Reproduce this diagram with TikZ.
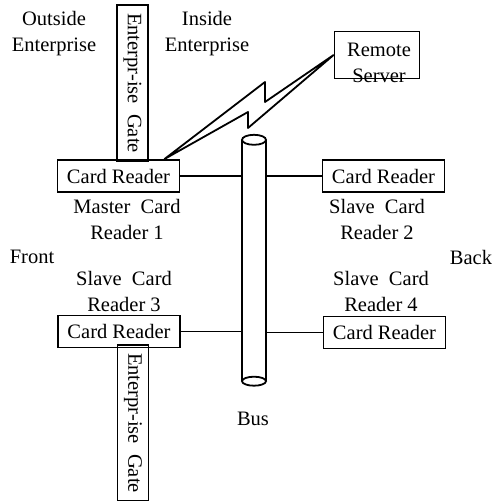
\documentclass[tikz,border=0pt]{standalone}
\usepackage{fontspec}
\setmainfont{Liberation Serif}
\usetikzlibrary{calc}
\begin{document}
\begin{tikzpicture}[x=1pt,y=-1pt,
  every node/.style={font=\fontsize{20.5}{26}\selectfont},
  reader/.style={draw, line width=1.8pt, minimum width=122pt, minimum height=32pt, inner sep=0pt},
  gate/.style={draw, line width=1.8pt, rotate=-90, minimum width=156pt, minimum height=31pt, inner sep=0pt},
  lbl/.style={align=center, inner sep=0pt},
  wire/.style={line width=1.8pt}]
\useasboundingbox (0,0) rectangle (493,501);

% region labels
\node[lbl] (outside) at (54,34) {Outside\\Enterprise};
\node[lbl] (inside) at (207,34) {Inside\\Enterprise};
\node[lbl] (front) at (32,257) {Front};
\node[lbl] (back) at (471,257) {Back};

% enterprise gates
\node[gate] (gatetop) at (132.5,83) {Enterpr-ise~~Gate};
\node[gate] (gatebot) at (133,423) {Enterpr-ise~~Gate};

% card readers
\node[reader] (cr1) at (118.5,176) {Card Reader};
\node[reader] (cr2) at (383.5,176) {Card Reader};
\node[reader] (cr3) at (119,331.5) {Card Reader};
\node[reader] (cr4) at (384.5,332.5) {Card Reader};

% reader captions
\node[lbl] (m1) at (127,219) {Master~~Card\\Reader 1};
\node[lbl] (s2) at (377,219) {Slave~~Card\\Reader 2};
\node[lbl] (s3) at (124,291) {Slave~~Card\\Reader 3};
\node[lbl] (s4) at (381,291) {Slave~~Card\\Reader 4};

% remote server
\node[draw, line width=1.8pt, minimum width=85pt, minimum height=47pt, inner sep=0pt] (rs) at (377,55) {};
\node[lbl] (rstext) at (379,63) {Remote\\Server};

% bus cylinder
\node[minimum width=24pt, minimum height=241pt, inner sep=0pt] (bus) at (254,260.5) {};
\draw[wire] (bus.north west) -- (bus.south west) (bus.north east) -- (bus.south east);
\draw[wire] (bus.north) ellipse [x radius=12, y radius=5];
\draw[wire] (bus.south) ellipse [x radius=12, y radius=4.5];
\node[lbl] (buslbl) at (253,419) {Bus};

% readers attached to the bus
\draw[wire] (cr1.east) -- (cr1.east -| bus.west);
\draw[wire] (bus.east |- cr2.west) -- (cr2.west);
\draw[wire] (cr3.east) -- (cr3.east -| bus.west);
\draw[wire] (bus.east |- cr4.west) -- (cr4.west);

% wireless link to the remote server
\coordinate (boltA) at ($(cr1.north east)+(-16,0)$);
\draw[wire, line join=round] (boltA) -- (265,82) -- (265,102) -- (rs.west)
  -- (248,128) -- (248,112) -- cycle;
\end{tikzpicture}
\end{document}
